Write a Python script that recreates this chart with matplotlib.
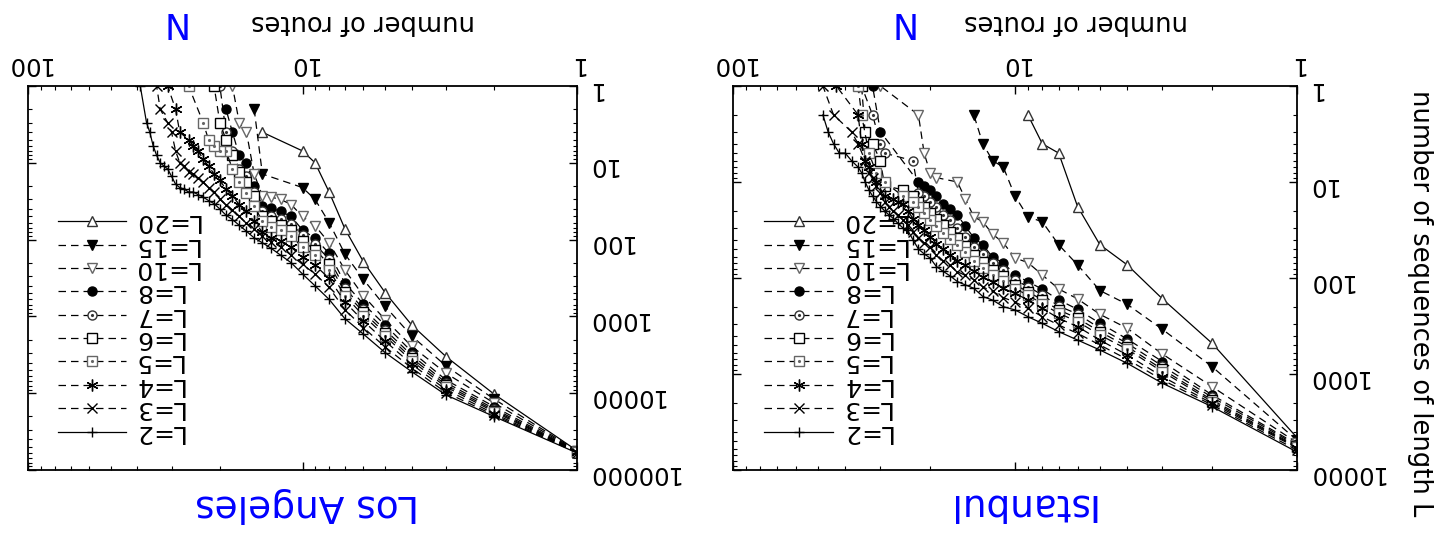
import numpy as np
import matplotlib
matplotlib.use('Agg')
import matplotlib.pyplot as plt
from matplotlib.ticker import LogLocator, NullFormatter

# Istanbul: number of routes N vs number of sequences of length L
ist_n20 = [1, 2, 3, 4, 5, 6, 7, 8, 9]
ist_y20 = [4600, 479, 165, 73, 45, 18, 5, 4, 2]
ist_n15 = [1, 2, 3, 4, 5, 6, 7, 8, 9, 10, 11, 12, 13, 14]
ist_y15 = [4900, 839, 343, 188, 135, 73, 45, 26, 23, 14, 7, 6, 4, 2]
ist_n10 = [1, 2, 3, 4, 5, 6, 7, 8, 9, 10, 11, 12, 13, 14, 15, 16, 19, 20, 21, 22, 30]
ist_y10 = [5200, 1355, 620, 334, 239, 165, 130, 93, 69, 62, 43, 35, 26, 23, 15, 10, 9, 8, 5, 2, 1]
ist_n8 = [1, 2, 3, 4, 5, 6, 7, 8, 9, 10, 11, 12, 13, 14, 15, 16, 17, 18, 19, 20, 21, 22, 30, 32]
ist_y8 = [5400, 1655, 743, 432, 296, 212, 169, 131, 109, 93, 69, 61, 45, 38, 29, 22, 19, 17, 14, 12, 11, 10, 3, 1]
ist_n7 = [1, 2, 3, 4, 5, 6, 7, 8, 9, 10, 11, 12, 13, 14, 15, 16, 17, 18, 19, 20, 21, 22, 23, 29, 30, 32, 35]
ist_y7 = [5550, 1750, 826, 479, 334, 237, 196, 150, 123, 105, 82, 70, 56, 47, 37, 30, 25, 22, 18, 16, 14, 13, 6, 5, 4, 2, 1]
ist_n6 = [1, 2, 3, 4, 5, 6, 7, 8, 9, 10, 11, 12, 13, 14, 15, 16, 17, 18, 19, 20, 21, 22, 23, 25, 29, 30, 32, 34, 35]
ist_y6 = [5700, 1866, 894, 519, 362, 263, 215, 169, 139, 118, 95, 82, 68, 57, 46, 38, 33, 28, 24, 21, 18, 16, 14, 12, 11, 6, 4, 3, 1]
ist_n5 = [1, 2, 3, 4, 5, 6, 7, 8, 9, 10, 11, 12, 13, 14, 15, 16, 17, 18, 19, 20, 21, 22, 23, 25, 29, 31, 33, 35, 36]
ist_y5 = [5800, 1941, 946, 553, 392, 285, 233, 187, 150, 130, 108, 94, 78, 66, 54, 45, 39, 34, 29, 25, 21, 18, 16, 14, 10, 8, 5, 2, 1]
ist_n4 = [1, 2, 3, 4, 5, 6, 7, 8, 9, 10, 11, 12, 13, 14, 15, 16, 17, 18, 19, 20, 21, 22, 23, 24, 25, 26, 27,
          29, 31, 33, 34, 35, 36, 43]
ist_y4 = [5900, 2021, 1066, 634, 443, 321, 263, 207, 169, 145, 128, 110, 98, 84, 74, 66, 57, 50, 44, 37, 32, 28, 24, 20, 17, 16, 15,
          14, 10, 7, 6, 4, 2, 1]
ist_n3 = [1, 2, 3, 4, 5, 6, 7, 8, 9, 10, 11, 12, 13, 14, 15, 16, 17, 18, 19, 20, 21, 22, 23, 24, 25, 26, 27, 28, 29, 30,
          31, 32, 33, 34, 36, 38, 44, 48]
ist_y3 = [6200, 2104, 1154, 703, 499, 377, 309, 253, 207, 178, 160, 138, 124, 104, 94, 86, 74, 66, 58, 48, 43, 38, 33, 28, 25, 22, 20, 18, 16, 13,
          11, 9, 8, 6, 4, 3, 2, 1]
ist_n2 = [1, 2, 3, 4, 5, 6, 7, 8, 9, 10, 11, 12, 13, 14, 15, 16, 17, 18, 19, 20, 21, 22, 23, 24, 25, 26, 27, 28, 29, 30,
          31, 32, 33, 34, 35, 36, 38, 40, 42, 44, 46, 48]
ist_y2 = [6500, 2190, 1250, 774, 562, 443, 362, 297, 253, 215, 199, 170, 156, 128, 118, 109, 95, 85, 76, 62, 56, 50, 40, 32, 30, 27, 24, 22, 20, 18,
          16, 14, 12, 10, 8, 7, 6, 5, 5, 4, 3, 2]

# Los Angeles
la_n20 = [1, 2, 3, 4, 5, 6, 7, 8, 9, 10, 14]
la_y20 = [56000, 10350, 3340, 1295, 490, 194, 73, 24, 10, 7, 4]
la_n15 = [1, 2, 3, 4, 5, 6, 7, 8, 9, 10, 14, 15]
la_y15 = [56500, 12000, 4420, 1800, 740, 330, 155, 60, 30, 21, 14, 2]
la_n10 = [1, 2, 3, 4, 5, 6, 7, 8, 9, 10, 11, 12, 13, 14, 15, 16, 17, 18]
la_y10 = [57000, 13500, 5500, 2450, 1100, 540, 250, 110, 66, 50, 35, 30, 28, 27, 14, 4, 3, 1]
la_n8 = [1, 2, 3, 4, 5, 6, 7, 8, 9, 10, 11, 12, 13, 14, 15, 16, 17, 18, 19]
la_y8 = [57500, 15000, 6730, 2880, 1295, 690, 370, 151, 96, 75, 50, 43, 39, 37, 20, 10, 8, 4, 2]
la_n7 = [1, 2, 3, 4, 5, 6, 7, 8, 9, 10, 11, 12, 13, 14, 15, 16, 17, 18, 19, 20]
la_y7 = [58000, 16000, 7300, 3200, 1500, 800, 430, 180, 115, 88, 62, 54, 50, 42, 24, 15, 12, 7, 4, 1]
la_n6 = [1, 2, 3, 4, 5, 6, 7, 8, 9, 10, 11, 12, 13, 14, 15, 16, 17, 18, 19, 20, 21]
la_y6 = [58200, 16800, 7800, 3500, 1650, 880, 480, 210, 135, 105, 75, 64, 58, 50, 27, 18, 13, 8, 5, 3, 1]
la_n5 = [1, 2, 3, 4, 5, 6, 7, 8, 9, 10, 11, 12, 13, 14, 15, 16, 17, 18, 19, 20, 21, 22, 23, 26]
la_y5 = [58500, 17500, 8300, 3800, 1800, 980, 540, 250, 160, 125, 90, 75, 68, 58, 36, 25, 18, 12, 7, 7, 6, 5, 3, 1]
la_n4 = [1, 2, 3, 4, 5, 6, 7, 8, 9, 10, 11, 12, 13, 14, 15, 16, 17, 18, 19, 20, 21, 22, 23, 24, 25, 26, 28, 29, 31]
la_y4 = [59000, 18500, 9000, 4200, 2100, 1150, 650, 320, 215, 170, 125, 105, 95, 80, 58, 43, 35, 27, 22, 17, 14, 11, 9, 7, 6, 5, 4, 2, 1]
la_n3 = [1, 2, 3, 4, 5, 6, 7, 8, 9, 10, 11, 12, 13, 14, 15, 16, 17, 18, 19, 20, 21, 22, 23, 24, 25, 26, 27, 28, 29, 30,
         31, 33, 34]
la_y3 = [59500, 19400, 9800, 4700, 2500, 1400, 820, 420, 280, 210, 160, 125, 106, 90, 72, 61, 50, 41, 35, 30, 24, 21, 18, 16, 14, 13, 11, 10, 7, 4,
         3, 2, 1]
la_n2 = [1, 2, 3, 4, 5, 6, 7, 8, 9, 10, 11, 12, 13, 14, 15, 16, 17, 18, 19, 20, 21, 22, 23, 24, 25, 26, 27, 28, 29, 30,
         31, 32, 33, 34, 35, 36, 37, 39]
la_y2 = [60000, 20200, 10550, 5250, 2960, 1700, 1075, 600, 400, 280, 200, 160, 130, 110, 95, 78, 65, 55, 48, 40, 34, 31, 28, 26, 24, 24, 22, 21, 19, 15,
         12, 11, 10, 8, 6, 4, 3, 1]

lengths = [20, 15, 10, 8, 7, 6, 5, 4, 3, 2]
ist_n = [ist_n20, ist_n15, ist_n10, ist_n8, ist_n7, ist_n6, ist_n5, ist_n4, ist_n3, ist_n2]
ist_y = [ist_y20, ist_y15, ist_y10, ist_y8, ist_y7, ist_y6, ist_y5, ist_y4, ist_y3, ist_y2]
la_n = [la_n20, la_n15, la_n10, la_n8, la_n7, la_n6, la_n5, la_n4, la_n3, la_n2]
la_y = [la_y20, la_y15, la_y10, la_y8, la_y7, la_y6, la_y5, la_y4, la_y3, la_y2]

DASH = (0, (6, 4))
asterisk = (6, 2, 0)
styles = {
    20: dict(marker='^', ls='-', mfc='white', mec='#333333', ms=7.5),
    15: dict(marker='v', ls=DASH, mfc='black', mec='black', ms=6.5),
    10: dict(marker='v', ls=DASH, mfc='white', mec='#666666', ms=7.5),
    8: dict(marker='o', ls=DASH, mfc='black', mec='black', ms=6.5),
    7: dict(marker='o', ls=DASH, mfc='white', mec='#333333', ms=6.5),
    6: dict(marker='s', ls=DASH, mfc='white', mec='black', ms=7.5),
    5: dict(marker='s', ls=DASH, mfc='white', mec='#666666', ms=7.5),
    4: dict(marker=asterisk, ls=DASH, mfc='black', mec='black', ms=8.5),
    3: dict(marker='x', ls=DASH, mfc='black', mec='black', ms=7.5),
    2: dict(marker='+', ls='-', mfc='black', mec='black', ms=7.5),
}
dotted = {7: '#333333', 5: '#666666'}

W, H = 1443, 538
fig = plt.figure(figsize=(W / 100, H / 100), dpi=100)
ax_la = fig.add_axes([28 / W, 68 / H, 549 / W, 384 / H])
ax_ist = fig.add_axes([733 / W, 68 / H, 564 / W, 384 / H])


def draw(ax, ns, ys, ymax, yticks):
    for L, n, y in zip(lengths, ns, ys):
        st = styles[L]
        ax.plot(n, y, color='black', lw=0.9, ls=st['ls'], marker=st['marker'],
                ms=st['ms'], mfc=st['mfc'], mec=st['mec'], mew=1.0)
        if L in dotted:
            ax.plot(n, y, ls='none', marker='.', ms=2.5, color=dotted[L])
    ax.set_xscale('log')
    ax.set_yscale('log')
    ax.set_xlim(100, 1)
    ax.set_ylim(ymax, 1)
    ax.set_xticks([1, 10, 100], ['1', '10', '100'])
    ax.set_yticks(yticks, [str(t) for t in yticks])
    for axis in (ax.xaxis, ax.yaxis):
        axis.set_minor_locator(LogLocator(base=10, subs=np.arange(2, 10)))
        axis.set_minor_formatter(NullFormatter())
    ax.tick_params(which='both', direction='in', top=True, bottom=True,
                   left=True, right=True, labeltop=True, labelbottom=False,
                   labelleft=False, labelright=True)
    ax.tick_params(which='major', length=6, width=1, labelsize=17.5,
                   labelrotation=180, pad=7)
    ax.tick_params(which='minor', length=3, width=0.8)
    for sp in ax.spines.values():
        sp.set_linewidth(1.3)

    # key, drawn upside down like the rest of the figure
    x0, x1, xt = 0.055, 0.178, 0.19
    for i, L in enumerate(lengths):
        st = styles[L]
        yy = 0.648 - i * 0.0609
        ax.plot([x0, x1], [yy, yy], transform=ax.transAxes, color='black',
                lw=0.9, ls=st['ls'])
        ax.plot([(x0 + x1) / 2], [yy], transform=ax.transAxes, ls='none',
                marker=st['marker'], ms=st['ms'], mfc=st['mfc'], mec=st['mec'], mew=1.0)
        if L in dotted:
            ax.plot([(x0 + x1) / 2], [yy], transform=ax.transAxes, ls='none',
                    marker='.', ms=2.5, color=dotted[L])
        ax.text(xt, yy, f'L={L}', transform=ax.transAxes, rotation=180,
                rotation_mode='anchor', ha='right', va='center', fontsize=18)


draw(ax_ist, ist_n, ist_y, 10000, [1, 10, 100, 1000, 10000])
draw(ax_la, la_n, la_y, 100000, [1, 10, 100, 1000, 10000, 100000])

blue = '#0000ff'
fig.text(1020 / W, 1 - 505 / H, 'Istanbul', rotation=180, color=blue,
         fontsize=27, ha='center', va='center')
fig.text(307 / W, 1 - 505 / H, 'Los Angeles', rotation=180, color=blue,
         fontsize=27, ha='center', va='center')
for xc, xn in [(1076, 900), (363, 172)]:
    fig.text(xc / W, 1 - 22 / H, 'number of routes', rotation=180,
             fontsize=18.5, ha='center', va='center')
    fig.text(xn / W, 1 - 22 / H, 'N', rotation=180, color=blue,
             fontsize=25, ha='center', va='center')
fig.text(1420 / W, 1 - 303 / H, 'number of sequences of length L', rotation=270,
         fontsize=18.5, ha='center', va='center')

fig.savefig('out.png', dpi=100)
